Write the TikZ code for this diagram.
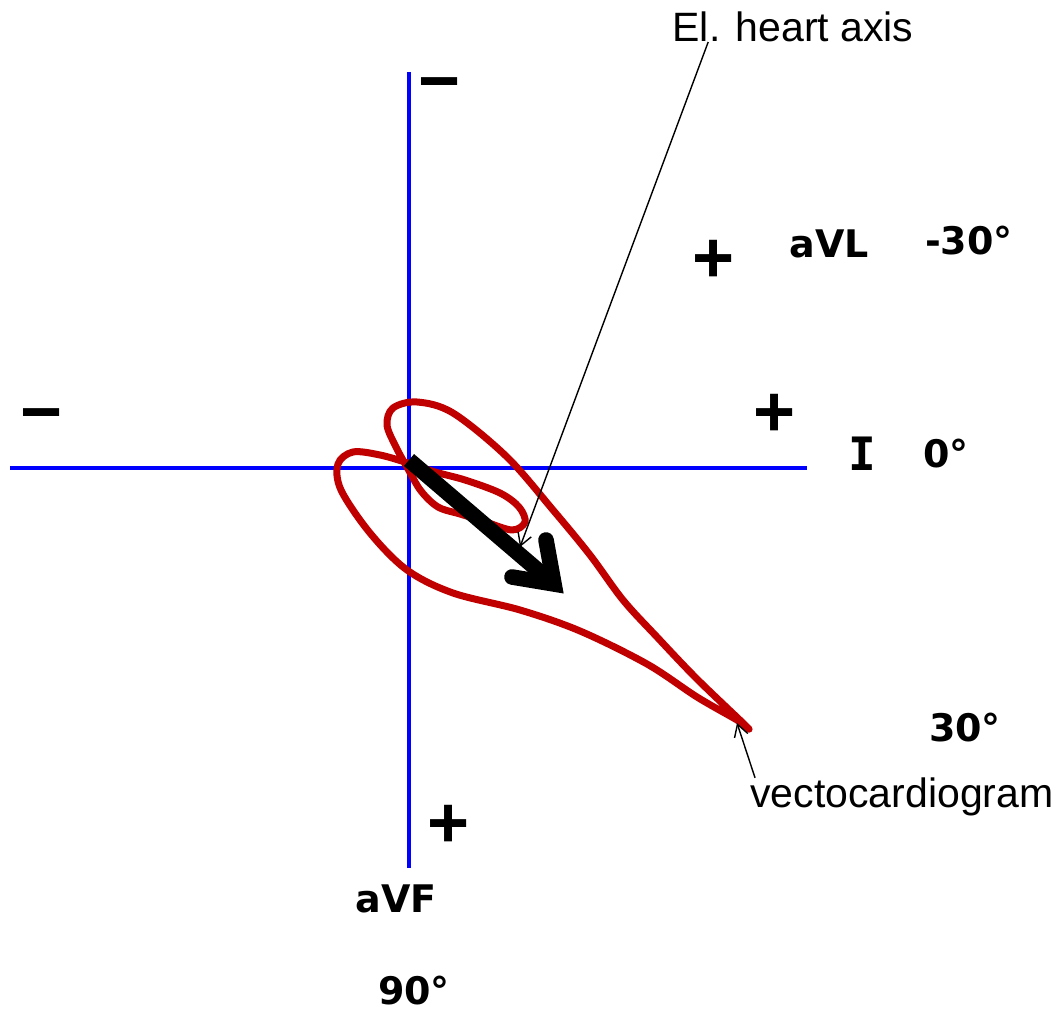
\documentclass[tikz,border=0pt]{standalone}
\usepackage{fontspec}
\setmainfont{Liberation Sans}
\newfontfamily\lblfont{DejaVu Sans}
\newfontfamily\romfont{DejaVu Sans Mono}
\usetikzlibrary{arrows.meta}
\definecolor{vcgred}{RGB}{192,0,0}

\begin{document}
\begin{tikzpicture}[x=0.5pt, y=-0.5pt,
  axis/.style ={draw=blue, line width=1.8pt},
  vcgline/.style ={draw=vcgred, line width=3.5pt, line join=round},
  hax/.style  ={draw=black, line width=7.8pt},
  ptr/.style  ={draw=black, line width=0.7pt, -{Straight Barb[length=6pt,width=7pt]}},
  sgn/.style  ={font=\fontsize{36}{36}\selectfont\bfseries, inner sep=0pt,
                text height=0.54em, text depth=0pt},
  deg/.style  ={font=\lblfont\fontsize{19}{22}\selectfont\bfseries, inner sep=0pt, anchor=base},
  txt/.style  ={font=\fontsize{20.5}{24}\selectfont, inner sep=0pt, anchor=base}]

  \useasboundingbox (0,0) rectangle (1056,1015);

  % ---------------- lead axes ----------------
  \draw[axis] (409,72) -- (409,868);   % aVF
  \draw[axis] (10,468) -- (807,468);   % I

  % ---------------- vectocardiogram loop ----------------
  \draw[vcgline] plot[smooth cycle, tension=0.55] coordinates {
    (747,727) (697,679) (657,637) (623,600) (590,555) (553,510) (507,457)
    (453,413) (417,402) (393,408) (387,425) (396,447) (408,469) (421,491)
    (438,507) (460,514) (483,521) (512,530) (525,522) (519,507) (500,493)
    (465,480) (435,472) (408,463) (380,455) (353,452) (338,464) (341,490)
    (370,533) (407,570) (453,593) (520,610) (580,631) (647,664) (697,697)
    (737,720)};

  % ---------------- electrical heart axis ----------------
  \coordinate (hstart) at (409,460);
  \coordinate (htip)   at (554,584);
  \coordinate (harmA)  at (512,577);
  \coordinate (harmB)  at (546,540);
  \draw[hax] (hstart) -- (htip);
  \draw[hax, line cap=round, line join=miter] (harmA) -- (htip) -- (harmB);

  % ---------------- signs ----------------
  \node[sgn] (mtop)  at (440,100) {−};
  \node[sgn] (mleft) at (42,431)  {−};
  \node[sgn] (pavl)  at (714,277) {+};
  \node[sgn] (pI)    at (775,431) {+};
  \node[sgn] (pavf)  at (449,842) {+};

  % ---------------- lead labels ----------------
  \node[deg] (lblavl)  at (829,258)  {aVL};
  \node[deg] (degavl)  at (969,255)  {-30°};
  \node[deg, font=\romfont\fontsize{23}{26}\selectfont\bfseries] (lblI) at (862,471) {I};
  \node[deg] (degI)    at (946,468)  {0°};
  \node[deg] (deg30)   at (965,742)  {30°};
  \node[deg] (lblavf)  at (396,913)  {aVF};
  \node[deg] (degavf)  at (414,1005) {90°};

  % ---------------- callouts ----------------
  \node[txt] (elax) at (793,42)  {El. heart axis};
  \node[txt] (vcg)  at (902,808) {vectocardiogram};
  \coordinate (axtip)  at (520,547);
  \coordinate (vcgtip) at (737,723);
  \draw[ptr] ([xshift=18pt]elax.base west) -- (axtip);
  \draw[ptr] ([xshift=2.5pt]vcg.north west) -- (vcgtip);
\end{tikzpicture}
\end{document}
